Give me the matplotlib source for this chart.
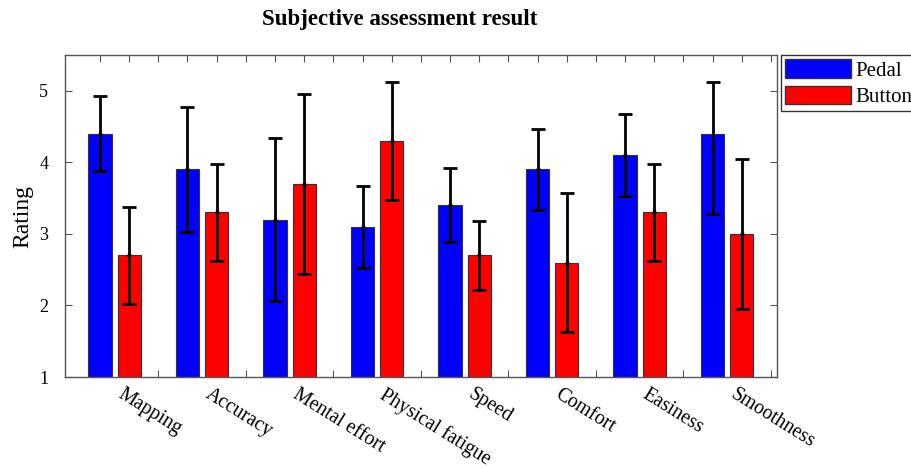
import numpy as np
import matplotlib.pyplot as plt
import matplotlib.transforms as mtransforms
from matplotlib.patches import Patch

plt.rcParams['font.family'] = ['Liberation Serif', 'DejaVu Serif']

categories = ['Mapping', 'Accuracy', 'Mental effort', 'Physical fatigue',
              'Speed', 'Comfort', 'Easiness', 'Smoothness']
pedal_mean = [4.4, 3.9, 3.2, 3.1, 3.4, 3.9, 4.1, 4.4]
button_mean = [2.7, 3.3, 3.7, 4.3, 2.7, 2.6, 3.3, 3.0]
# error bar centres (the last pedal one is drawn off the bar top in the source)
pedal_err_center = [4.4, 3.9, 3.2, 3.1, 3.4, 3.9, 4.1, 4.2]
button_err_center = [2.7, 3.3, 3.7, 4.3, 2.7, 2.6, 3.3, 3.0]
pedal_std = [0.52, 0.88, 1.14, 0.57, 0.52, 0.57, 0.57, 0.92]
button_std = [0.68, 0.68, 1.26, 0.82, 0.48, 0.97, 0.68, 1.05]

fig = plt.figure(figsize=(9.12, 4.68), dpi=100)
ax = fig.add_axes([0.0713, 0.1944, 0.7807, 0.6881])

x = np.arange(1, len(categories) + 1)
off = 1 / 6
w = 0.265
ax.bar(x - off, np.array(pedal_mean) - 1, w, bottom=1, color='#0000ff',
       edgecolor='#333333', linewidth=0.8, label='Pedal', zorder=2)
ax.bar(x + off, np.array(button_mean) - 1, w, bottom=1, color='#ff0000',
       edgecolor='#333333', linewidth=0.8, label='Button', zorder=2)
ax.errorbar(x - off, pedal_err_center, yerr=pedal_std, fmt='.', color='black',
            markersize=4, elinewidth=2, capsize=5, capthick=2, zorder=3)
ax.errorbar(x + off, button_err_center, yerr=button_std, fmt='.', color='black',
            markersize=4, elinewidth=2, capsize=5, capthick=2, zorder=3)

ax.set_xlim(0.434, 8.57)
ax.set_ylim(1, 5.5)
ax.set_yticks([1, 2, 3, 4, 5])
ax.set_xticks(np.arange(1 - off, 8.6, 1 / 3))
ax.set_xticklabels([])
ax.tick_params(which='major', direction='in', top=True, right=True,
               length=5, width=0.8, color='#555555', labelsize=13)
ax.tick_params(axis='y', pad=12)
for s in ax.spines.values():
    s.set_color('#555555')
    s.set_linewidth(1)

# rotated category labels, hanging from each group centre
trans = mtransforms.blended_transform_factory(ax.transData, ax.transAxes)
for xi, name in zip(x, categories):
    ax.text(xi + 0.11, -0.025, name, transform=trans, rotation=-32,
            rotation_mode='anchor', ha='left', va='top', fontsize=14.2)

ax.set_ylabel('Rating', fontsize=17, labelpad=4)
fig.text(400 / 912, 1 - 19 / 468, 'Subjective assessment result',
         ha='center', va='center', fontsize=16.5, fontweight='bold')

handles = [Patch(facecolor='#0000ff', edgecolor='#333333', label='Pedal'),
           Patch(facecolor='#ff0000', edgecolor='#333333', label='Button')]
leg = ax.legend(handles=handles, loc='upper left', bbox_to_anchor=(1.005, 1.0),
                fontsize=15, frameon=True, fancybox=False, handlelength=3.2,
                handleheight=1.0, handletextpad=0.2, borderpad=0.2,
                labelspacing=0.25, borderaxespad=0)
leg.get_frame().set_edgecolor('black')
leg.get_frame().set_linewidth(1)

fig.savefig('out.png', dpi=100)
